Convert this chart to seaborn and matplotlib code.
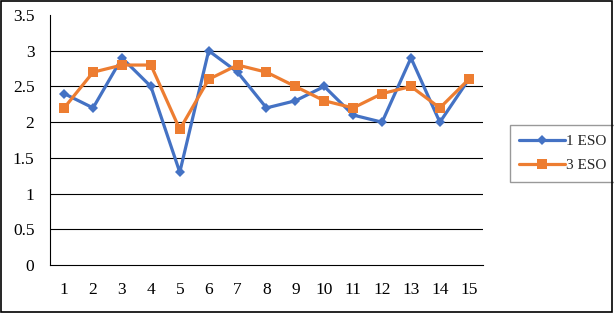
import matplotlib
matplotlib.use("Agg")
import matplotlib.pyplot as plt
import seaborn as sns
import pandas as pd
from matplotlib.patches import Rectangle

categories = [str(i) for i in range(1, 16)]
eso1 = [2.4, 2.2, 2.9, 2.5, 1.3, 3.0, 2.7, 2.2, 2.3, 2.5, 2.1, 2.0, 2.9, 2.0, 2.6]
eso3 = [2.2, 2.7, 2.8, 2.8, 1.9, 2.6, 2.8, 2.7, 2.5, 2.3, 2.2, 2.4, 2.5, 2.2, 2.6]
series_names = ["1 ESO", "3 ESO"]
yticks = [0, 0.5, 1, 1.5, 2, 2.5, 3, 3.5]
ytick_labels = ["0", "0.5", "1", "1.5", "2", "2.5", "3", "3.5"]

df = pd.DataFrame({
    "x": categories * 2,
    "value": eso1 + eso3,
    "series": [series_names[0]] * len(eso1) + [series_names[1]] * len(eso3),
})

sns.set_style("white")
plt.rcParams["font.family"] = ["Liberation Serif", "DejaVu Serif"]

fig = plt.figure(figsize=(6.14, 3.13), dpi=100)
ax = fig.add_axes([0.081, 0.153, 0.706, 0.799])

# horizontal gridlines (no line at the top value)
for yv in yticks[1:-1]:
    ax.axhline(yv, color="black", linewidth=0.8, zorder=0)

colors = {"1 ESO": "#4472C4", "3 ESO": "#ED7D31"}
sns.lineplot(data=df, x="x", y="value", hue="series", style="series",
             markers={"1 ESO": "D", "3 ESO": "s"}, dashes=False,
             palette=colors, linewidth=2.3, markersize=6, markeredgewidth=0,
             sort=False, ax=ax)
for line in ax.get_lines():
    if line.get_marker() == "s":
        line.set_markersize(7.5)
    elif line.get_marker() == "D":
        line.set_markersize(5)

ax.set_xlim(-0.5, len(categories) - 0.5)
ax.set_ylim(0, 3.5)
ax.set_yticks(yticks)
ax.set_yticklabels(ytick_labels)
ax.grid(False)
ax.spines["top"].set_visible(False)
ax.spines["right"].set_visible(False)
for s in ["left", "bottom"]:
    ax.spines[s].set_color("black")
    ax.spines[s].set_linewidth(0.8)
ax.tick_params(axis="both", length=0, labelsize=12.5, colors="black")
ax.tick_params(axis="y", pad=11)
ax.tick_params(axis="x", pad=12)
ax.set_xlabel("")
ax.set_ylabel("")

handles, labels = ax.get_legend_handles_labels()
leg = ax.legend(handles, labels, loc="center left", bbox_to_anchor=(0.818, 0.51),
                bbox_transform=fig.transFigure, frameon=True, fancybox=False,
                fontsize=11, handlelength=3.0, handletextpad=0.1,
                borderpad=0.6, labelspacing=0.7)
leg.get_frame().set_edgecolor("#808080")
leg.get_frame().set_linewidth(1.0)

fig.patches.append(Rectangle((0.002, 0.003), 0.995, 0.994, transform=fig.transFigure,
                             fill=False, edgecolor="black", linewidth=1.2))

fig.savefig("out.png", dpi=100)
